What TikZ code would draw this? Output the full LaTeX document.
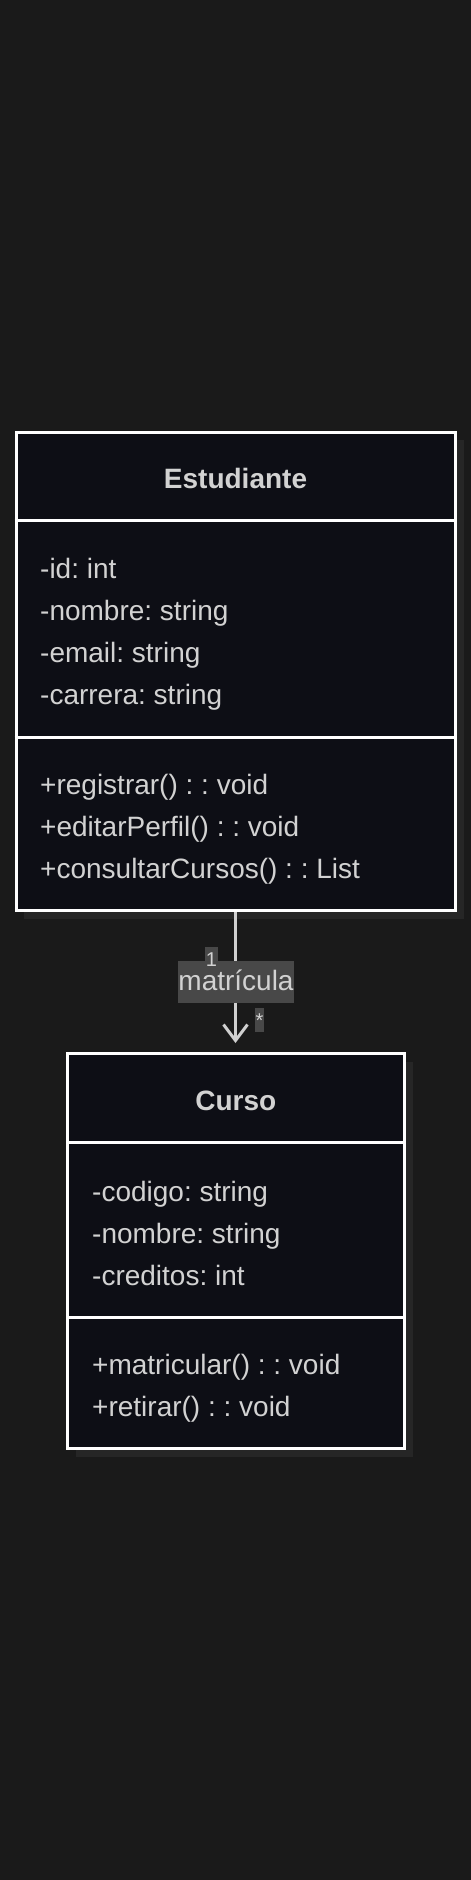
\documentclass[tikz,border=0pt]{standalone}
\usepackage{fontspec}
\setmainfont{Liberation Sans}
\usetikzlibrary{arrows.meta}
\definecolor{bg}{HTML}{1A1A1A}
\definecolor{boxfill}{HTML}{0D0E15}
\definecolor{txt}{HTML}{D2D2D2}
\definecolor{shadowc}{HTML}{262626}
\definecolor{lblbg}{HTML}{484848}
\definecolor{linec}{HTML}{D0D0D0}
\frenchspacing
\tikzset{
  classbox/.style={draw=white, line width=3pt, fill=boxfill, inner sep=0pt},
  divider/.style={draw=white, line width=3pt},
  title/.style={text=txt, font=\fontsize{28}{34}\selectfont\bfseries, inner sep=0pt, anchor=base},
  member/.style={text=txt, font=\fontsize{28}{34}\selectfont, inner sep=0pt, anchor=base west},
  lbl/.style={fill=lblbg, text=txt, font=\fontsize{28}{34}\selectfont, inner sep=0pt,
    minimum width=116pt, minimum height=42pt, text height=20pt, text depth=4pt},
  mult/.style={fill=lblbg, text=txt, font=\fontsize{20}{24}\selectfont, inner sep=0pt, anchor=base},
  assoc/.style={draw=linec, line width=3pt, -{Straight Barb[length=16pt,width=24pt]}}
}
\begin{document}
\begin{tikzpicture}[x=1pt,y=-1pt]
\fill[bg] (0,0) rectangle (471,1880);
\useasboundingbox (0,0) rectangle (471,1880);
% shadows
\fill[shadowc] (24,440) rectangle (464,919);
\fill[shadowc] (76,1062) rectangle (413,1457);
% Estudiante
\node[classbox, minimum width=439pt, minimum height=478.5pt] (est) at (235.5,671.25) {};
\draw[divider] (est.west |- 0,520.5) -- (est.east |- 0,520.5);
\draw[divider] (est.west |- 0,737) -- (est.east |- 0,737);
\node[title] (esttitle) at (235.5,488) {Estudiante};
\node[member] (e1) at (40,578) {-id: int};
\node[member] (e2) at (40,620) {-nombre: string};
\node[member] (e3) at (40,662) {-email: string};
\node[member] (e4) at (40,704) {-carrera: string};
\node[member] (e5) at (40,794) {+registrar() : : void};
\node[member] (e6) at (40,836) {+editarPerfil() : : void};
\node[member] (e7) at (40,878) {+consultarCursos() : : List};
% Curso
\node[classbox, minimum width=336.5pt, minimum height=395pt] (cur) at (235.75,1251) {};
\draw[divider] (cur.west |- 0,1142) -- (cur.east |- 0,1142);
\draw[divider] (cur.west |- 0,1317) -- (cur.east |- 0,1317);
\node[title] (curtitle) at (235.75,1110.5) {Curso};
\node[member] (c1) at (92,1201) {-codigo: string};
\node[member] (c2) at (92,1243) {-nombre: string};
\node[member] (c3) at (92,1285) {-creditos: int};
\node[member] (c4) at (92,1374) {+matricular() : : void};
\node[member] (c5) at (92,1416) {+retirar() : : void};
% association
\draw[assoc, shorten >=9pt] (est.south) -- (est.south |- cur.north);
\node[lbl] (rel) at (236,982) {matrícula};
\node[mult, minimum width=13pt, text height=19pt, text depth=0pt] (m1) at (211.5,966) {1};
\node[mult, minimum width=9pt, text height=19pt, text depth=5pt] (m2) at (259.5,1027) {*};
\end{tikzpicture}
\end{document}
